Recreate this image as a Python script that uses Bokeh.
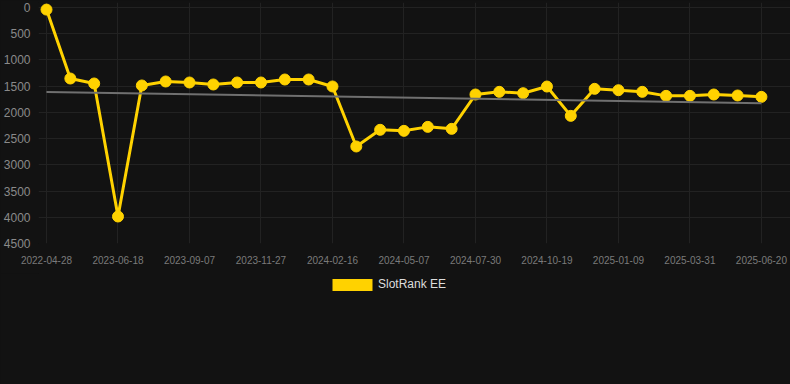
import numpy as np
from bokeh.plotting import figure
from bokeh.layouts import column
from bokeh.models import (ColumnDataSource, Range1d, FixedTicker, Legend, LegendItem)
from bokeh.embed import file_html
from bokeh.resources import INLINE

# ---- data ----
dates = ["2022-04-28", "2023-04-23", "2023-05-21", "2023-06-18", "2023-07-15", "2023-08-11",
         "2023-09-07", "2023-10-04", "2023-10-31", "2023-11-27", "2023-12-24", "2024-01-20",
         "2024-02-16", "2024-03-14", "2024-04-10", "2024-05-07", "2024-06-04", "2024-07-02",
         "2024-07-30", "2024-08-26", "2024-09-22", "2024-10-19", "2024-11-15", "2024-12-13",
         "2025-01-09", "2025-02-05", "2025-03-04", "2025-03-31", "2025-04-27", "2025-05-24",
         "2025-06-20"]
rank = [40, 1354, 1449, 3985, 1487, 1411, 1430, 1468, 1430, 1430, 1373, 1373, 1506,
        2650, 2332, 2352, 2276, 2314, 1659, 1608, 1634, 1507, 2066, 1551, 1577, 1608,
        1685, 1685, 1659, 1678, 1704]
series_name = "SlotRank EE"
y_ticks = [0, 500, 1000, 1500, 2000, 2500, 3000, 3500, 4000, 4500]
label_every = 3

idx = list(range(len(dates)))
src = ColumnDataSource(dict(x=idx, y=rank, d=dates))

coef = np.polyfit(idx, rank, 1)
trend_x = [idx[0], idx[-1]]
trend_y = [float(np.polyval(coef, v)) for v in trend_x]

BG = "#121212"
GOLD = "#FFD200"

p = figure(width=790, height=273, output_backend="svg", toolbar_location=None,
           x_range=Range1d(-0.336, 31.22), y_range=Range1d(4500, -95.3),
           min_border_left=38, min_border_right=0, min_border_top=2, min_border_bottom=30,
           background_fill_color=BG, border_fill_color=BG, outline_line_color=None)

p.line("x", "y", source=src, line_color=GOLD, line_width=3)
p.scatter("x", "y", source=src, size=11, fill_color=GOLD, line_color=GOLD)
p.line(trend_x, trend_y, line_color="#707070", line_width=2)

tick_pos = idx[::label_every]
p.xaxis.ticker = FixedTicker(ticks=tick_pos)
p.xaxis.major_label_overrides = {i: dates[i] for i in tick_pos}
p.yaxis.ticker = FixedTicker(ticks=y_ticks)

for ax in (p.xaxis[0], p.yaxis[0]):
    ax.axis_line_color = None
    ax.major_tick_line_color = None
    ax.minor_tick_line_color = None
    ax.major_label_text_font = "Liberation Sans"
    ax.major_label_text_color = "#7a7a7a"
p.xaxis.major_label_text_font_size = "10px"
p.xaxis.major_label_standoff = 6
p.yaxis.major_label_text_font_size = "12px"
p.yaxis.major_label_text_color = "#8a8a8a"
p.yaxis.major_label_standoff = 2

p.xgrid.ticker = FixedTicker(ticks=tick_pos)
p.ygrid.ticker = FixedTicker(ticks=y_ticks)
p.grid.grid_line_color = "#222222"
p.grid.grid_line_width = 1

# ---- legend strip below the chart ----
p2 = figure(width=790, height=111, output_backend="svg", toolbar_location=None,
            x_range=Range1d(0, 1), y_range=Range1d(0, 1),
            min_border_left=0, min_border_right=0, min_border_top=0, min_border_bottom=0,
            background_fill_color=BG, border_fill_color=BG, outline_line_color=None)
p2.axis.visible = False
p2.grid.visible = False
# zero-size quad, only used to draw the legend swatch
q = p2.quad(left=[idx[0]], right=[idx[0]], top=[rank[0]], bottom=[rank[0]],
            fill_color=GOLD, line_color=None)
legend = Legend(items=[LegendItem(label=series_name, renderers=[q])],
                orientation="horizontal", location=(289, 92.5),
                background_fill_alpha=0, border_line_alpha=0,
                label_text_color="#dddddd", label_text_font="Liberation Sans",
                label_text_font_size="12px", glyph_width=50, glyph_height=15,
                label_standoff=1, margin=0, padding=0)
p2.add_layout(legend, "center")

layout = column(p, p2, spacing=0)

html = file_html(layout, INLINE)
html = html.replace("<head>", "<head><style>html,body{margin:0;padding:0;background:#121212;}</style>", 1)
open("out.html", "w").write(html)
